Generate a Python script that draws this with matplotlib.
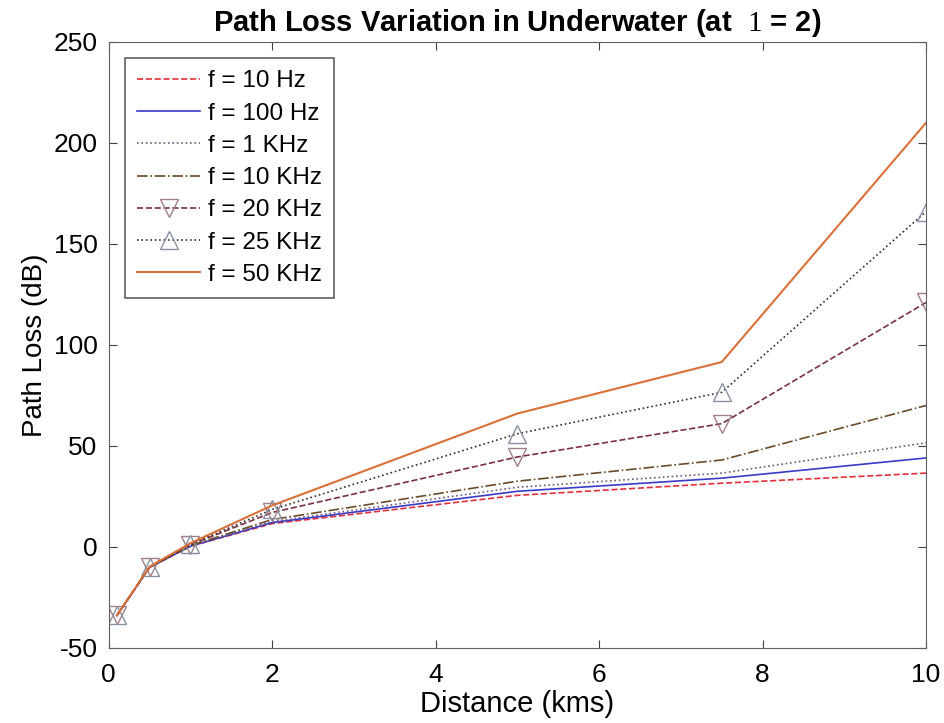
import matplotlib
matplotlib.use("Agg")
import matplotlib.pyplot as plt

plt.rcParams['font.family'] = ['Liberation Sans', 'DejaVu Sans']
plt.rcParams['mathtext.fontset'] = 'custom'
plt.rcParams['mathtext.rm'] = 'Liberation Serif'
plt.rcParams['axes.unicode_minus'] = False

# distance points (kms)
dist = [0.1, 0.5, 1, 2, 5, 7.5, 10]

# path loss (dB) for each frequency
pl_10hz = [-34, -10.2, 0.3, 11.5, 25.5, 31.5, 36.5]
pl_100hz = [-34, -10.2, 0.3, 12.0, 27.5, 34.0, 44.0]
pl_1khz = [-34, -10.2, 0.4, 12.5, 29.5, 36.5, 51.5]
pl_10khz = [-34, -10.1, 0.6, 13.5, 32.5, 43.0, 70.0]
pl_20khz = [-34, -10.0, 1.0, 17.0, 44.5, 61.0, 121.0]
pl_25khz = [-34, -9.9, 1.2, 18.5, 56.0, 76.5, 166.0]
pl_50khz = [-34, -9.8, 1.8, 20.5, 66.0, 91.5, 210.0]

fig = plt.figure(figsize=(9.45, 7.23), dpi=100)
ax = fig.add_axes([0.115, 0.104, 0.865, 0.838])

ax.plot(dist, pl_10hz, '--', color='#e0303a', lw=1.2, label='f = 10 Hz')
ax.plot(dist, pl_100hz, '-', color='#3a3ac8', lw=1.2, label='f = 100 Hz')
ax.plot(dist, pl_1khz, ':', color='#6a5a80', lw=1.2, label='f = 1 KHz')
ax.plot(dist, pl_10khz, '-.', color='#6a4a28', lw=1.2, label='f = 10 KHz')
ax.plot(dist, pl_20khz, '--', color='#7a3040', lw=1.2, marker='v', ms=13,
        mfc='none', mec='#a08088', mew=1.0, label='f = 20 KHz')
ax.plot(dist, pl_25khz, ':', color='#303030', lw=1.2, marker='^', ms=13,
        mfc='none', mec='#8890a0', mew=1.0, label='f = 25 KHz')
ax.plot(dist, pl_50khz, '-', color='#d9703a', lw=1.5, label='f = 50 KHz')

ax.set_xlim(0, 10)
ax.set_ylim(-50, 250)
ax.set_xticks([0, 2, 4, 6, 8, 10])
ax.set_yticks([-50, 0, 50, 100, 150, 200, 250])
ax.tick_params(direction='in', top=True, right=True, labelsize=19, length=6,
               color='#404040')
ax.tick_params(axis='x', pad=11)
ax.tick_params(axis='y', pad=8)
for s in ax.spines.values():
    s.set_color('#606060')

ax.set_xlabel('Distance (kms)', fontsize=21, labelpad=2)
ax.set_ylabel('Path Loss (dB)', fontsize=20)
ax.set_title(r'Path Loss Variation in Underwater (at  $\mathrm{1}$ = 2)',
             fontsize=21, fontweight='bold', pad=8)

leg = ax.legend(loc='upper left', fontsize=17.5, handlelength=2.6,
                fancybox=False, edgecolor='#606060', framealpha=1,
                borderpad=0.5, labelspacing=0.42, handletextpad=0.3,
                borderaxespad=0, bbox_to_anchor=(0.02, 0.973))
leg.get_frame().set_linewidth(1.2)

fig.savefig('out.png', dpi=100)
